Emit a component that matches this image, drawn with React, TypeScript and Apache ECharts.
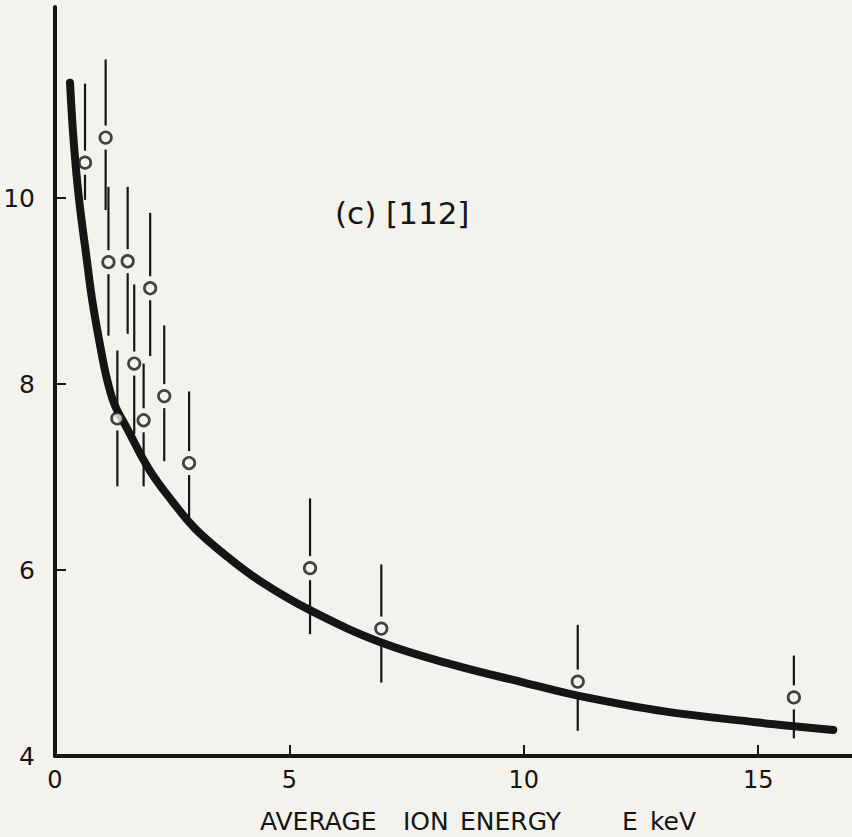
import React, { useEffect, useRef } from "react";
import * as echarts from "echarts";

// Measured points: average ion energy (keV) and value with its error range
const energy = [0.64, 1.08, 1.14, 1.55, 2.03, 1.69, 1.33, 1.89, 2.33, 2.86, 5.44, 6.96, 11.15, 15.76];
const measured = [10.38, 10.65, 9.31, 9.32, 9.03, 8.22, 7.63, 7.61, 7.87, 7.15, 6.02, 5.37, 4.8, 4.63];
const errUpper = [11.23, 11.49, 10.12, 10.12, 9.84, 9.07, 8.36, 8.22, 8.63, 7.92, 6.77, 6.06, 5.41, 5.08];
const errLower = [9.98, 9.87, 8.52, 8.54, 8.3, 7.46, 6.9, 6.9, 7.17, 6.5, 5.31, 4.79, 4.27, 4.19];

// Fitted curve through the data
const fitEnergy = [0.32, 0.4, 0.51, 0.68, 0.8, 1.02, 1.12, 1.27, 1.55, 2.01, 2.5, 3.0, 3.71, 4.41, 5.47, 6.96, 8.5, 10, 11.15, 13, 15, 15.76, 16.6];
const fitValue = [11.24, 10.6, 10.0, 9.33, 8.88, 8.26, 8.03, 7.78, 7.51, 7.08, 6.74, 6.44, 6.13, 5.87, 5.56, 5.22, 4.98, 4.79, 4.65, 4.48, 4.36, 4.32, 4.28];

const xTickLabels = [0, 5, 10, 15];
const xTickMarks = [5, 10, 15];
const yTickLabels = [4, 6, 8, 10];
const yTickMarks = [6, 8, 10];

// Words of the x-axis title, each with its left edge in pixels
const titleWords = ["AVERAGE", "ION", "ENERGY", "E", "keV"];
const titleLeft = [260, 403, 460, 622, 650];

const ink = "#151515";
const paper = "#f4f2ed";
const font = "'DejaVu Sans', sans-serif";

export default function App() {
  const ref = useRef<HTMLDivElement>(null);

  useEffect(() => {
    if (!ref.current) return;
    const chart = echarts.init(ref.current, null, { renderer: "svg" });

    const errorData = energy.map((x, i) => [x, errLower[i], errUpper[i], measured[i]]);
    const pointData = energy.map((x, i) => [x, measured[i]]);
    const fitData = fitEnergy.map((x, i) => [x, fitValue[i]]);

    chart.setOption({
      animation: false,
      backgroundColor: paper,
      grid: { left: 55, top: 7, width: 802, height: 749, containLabel: false },
      xAxis: {
        type: "value",
        min: 0,
        max: 17,
        interval: 5,
        axisLine: { show: true, onZero: false, lineStyle: { color: ink, width: 4 } },
        axisTick: {
          show: true,
          inside: true,
          length: 11,
          customValues: xTickMarks,
          lineStyle: { color: ink, width: 2 },
        },
        axisLabel: {
          customValues: xTickLabels,
          color: ink,
          fontFamily: font,
          fontSize: 24,
          margin: 12,
        },
        splitLine: { show: false },
      },
      yAxis: {
        type: "value",
        min: 4,
        max: 12.054,
        interval: 2,
        axisLine: { show: true, onZero: false, lineStyle: { color: ink, width: 4 } },
        axisTick: {
          show: true,
          inside: true,
          length: 11,
          customValues: yTickMarks,
          lineStyle: { color: ink, width: 2 },
        },
        axisLabel: {
          customValues: yTickLabels,
          color: ink,
          fontFamily: font,
          fontSize: 25,
          margin: 20,
        },
        splitLine: { show: false },
      },
      series: [
        {
          type: "line",
          data: fitData,
          smooth: 0.4,
          symbol: "none",
          lineStyle: { color: ink, width: 8, cap: "round", join: "round" },
          z: 2,
        },
        {
          type: "custom",
          data: errorData,
          z: 3,
          renderItem: (params: any, api: any) => {
            const x = api.value(0);
            const lo = api.coord([x, api.value(1)]);
            const hi = api.coord([x, api.value(2)]);
            const c = api.coord([x, api.value(3)]);
            const gap = 12;
            const style = { stroke: ink, lineWidth: 2.2 };
            const children: any[] = [];
            if (hi[1] < c[1] - gap) {
              children.push({
                type: "line",
                shape: { x1: c[0], y1: hi[1], x2: c[0], y2: c[1] - gap },
                style,
              });
            }
            if (lo[1] > c[1] + gap) {
              children.push({
                type: "line",
                shape: { x1: c[0], y1: c[1] + gap, x2: c[0], y2: lo[1] },
                style,
              });
            }
            return { type: "group", children };
          },
        },
        {
          type: "scatter",
          data: pointData,
          symbol: "circle",
          symbolSize: 11.5,
          itemStyle: { color: paper, borderColor: ink, borderWidth: 2.7 },
          z: 4,
        },
      ],
      graphic: [
        {
          type: "text",
          x: 335,
          y: 213,
          style: {
            text: "(c) [112]",
            fill: ink,
            font: `31px ${font}`,
            verticalAlign: "middle",
          },
        },
        ...titleWords.map((word, i) => ({
          type: "text",
          x: titleLeft[i],
          y: 821,
          style: {
            text: word,
            fill: ink,
            font: `25px ${font}`,
            verticalAlign: "middle",
          },
        })),
      ],
    });

    return () => chart.dispose();
  }, []);

  return (
    <div
      ref={ref}
      style={{ position: "fixed", left: 0, top: 0, width: 852, height: 837 }}
    />
  );
}
